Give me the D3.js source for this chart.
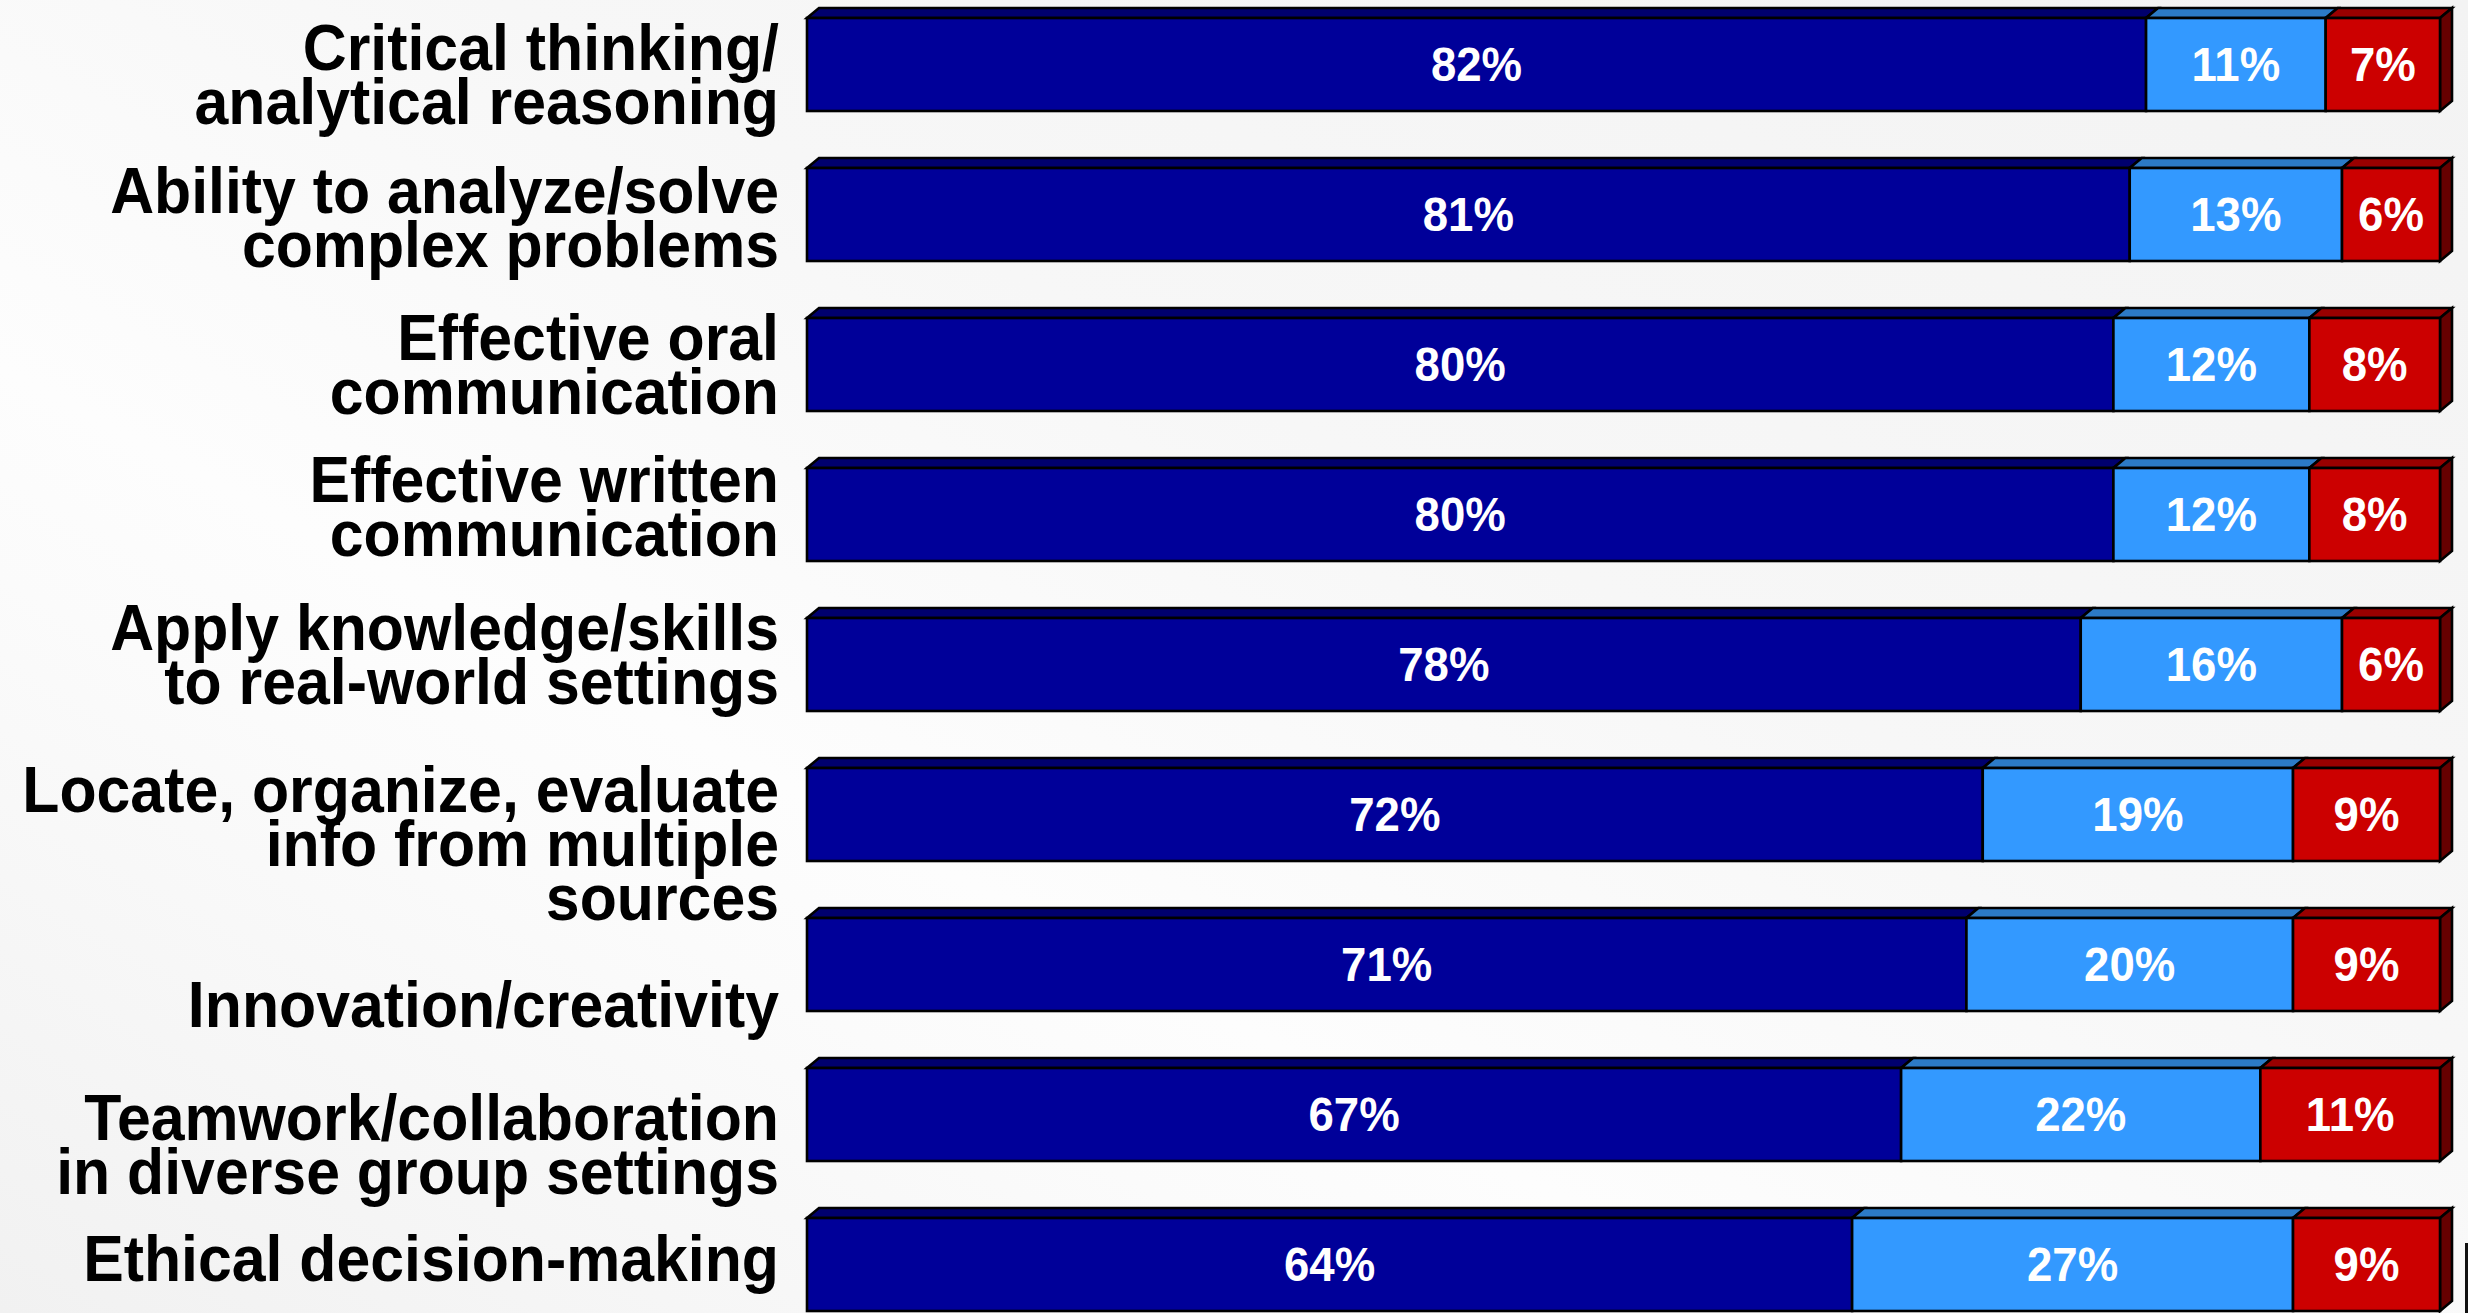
<!DOCTYPE html>
<html>
<head>
<meta charset="utf-8">
<script src="https://cdn.jsdelivr.net/npm/d3@7/dist/d3.min.js"></script>
<style>
  html, body { margin: 0; padding: 0; background: #f6f6f6; overflow: hidden; }
  svg { display: block; }
  text { font-family: "Liberation Sans", Arial, Helvetica, sans-serif; font-weight: bold; }
</style>
</head>
<body>
<svg id="chart" width="2468" height="1313"></svg>
<script>
// Outcome areas, one row per bar (line breaks mark the wrapped label lines)
const categories = [
  "Critical thinking/\nanalytical reasoning",
  "Ability to analyze/solve\ncomplex problems",
  "Effective oral\ncommunication",
  "Effective written\ncommunication",
  "Apply knowledge/skills\nto real-world settings",
  "Locate, organize, evaluate\ninfo from multiple\nsources",
  "Innovation/creativity",
  "Teamwork/collaboration\nin diverse group settings",
  "Ethical decision-making"
];

// Share of respondents (%) in each of the three response groups
const highShare = [82, 81, 80, 80, 78, 72, 71, 67, 64];
const midShare  = [11, 13, 12, 12, 16, 19, 20, 22, 27];
const lowShare  = [ 7,  6,  8,  8,  6,  9,  9, 11,  9];

const seriesKeys = ["high", "mid", "low"];

// ---- layout ----
const W = 2468, H = 1313;
const plotLeft = 807, plotRight = 2440;
const depthX = 12, depthY = 10;           // extrusion of the 3-D bars
const labelRight = 779;                   // right edge of the category labels
const labelSize = 64, labelLine = 54, labelSqueeze = 0.95;
const valueSize = 48;
// vertical nudge of each category label relative to its bar centre
const labelNudge = [10, 3, 0, -8, -10, 29, 40, 30, -6];

const faceColor = { high: "#000099", mid: "#3399ff", low: "#cc0000" };
const topColor  = { high: "#00006e", mid: "#2c7ac6", low: "#990000" };
const sideColor = { high: "#000055", mid: "#1f5a94", low: "#660000" };

const rows = categories.map((c, i) => ({
  category: c, high: highShare[i], mid: midShare[i], low: lowShare[i]
}));

const svg = d3.select("#chart");

// soft diagonal sheen on the background
const defs = svg.append("defs");
const bg = defs.append("linearGradient").attr("id", "bg")
  .attr("x1", "0").attr("y1", "1").attr("x2", "1").attr("y2", "0");
[[0, "#f1f1f1"], [0.28, "#fbfbfb"], [0.36, "#fdfdfd"], [0.6, "#f7f7f7"], [1, "#f3f3f3"]]
  .forEach(([o, c]) => bg.append("stop").attr("offset", o).attr("stop-color", c));
svg.append("rect").attr("width", W).attr("height", H).attr("fill", "url(#bg)");

const x = d3.scaleLinear().domain([0, 100]).range([plotLeft, plotRight]);
const y = d3.scaleBand().domain(categories).range([18, 1311])
  .paddingInner(0.38).paddingOuter(0);
const bh = y.bandwidth();

const stacked = d3.stack().keys(seriesKeys)(rows);
// flatten to one record per segment
const segments = [];
stacked.forEach((layer, li) => {
  layer.forEach((d, ri) => {
    segments.push({
      key: layer.key, last: li === stacked.length - 1,
      cat: rows[ri].category, v0: d[0], v1: d[1], value: d.data[layer.key]
    });
  });
});

const bars = svg.append("g").attr("stroke", "#000").attr("stroke-width", 2.6)
  .attr("stroke-linejoin", "miter");

// top faces
bars.selectAll("path.top").data(segments).join("path").attr("class", "top")
  .attr("fill", d => topColor[d.key])
  .attr("d", d => {
    const x0 = x(d.v0), x1 = x(d.v1), yt = y(d.cat);
    return `M${x0},${yt}L${x0 + depthX},${yt - depthY}L${x1 + depthX},${yt - depthY}L${x1},${yt}Z`;
  });

// right-hand side faces (only visible on the end segment)
bars.selectAll("path.side").data(segments.filter(d => d.last)).join("path").attr("class", "side")
  .attr("fill", d => sideColor[d.key])
  .attr("d", d => {
    const x1 = x(d.v1), yt = y(d.cat);
    return `M${x1},${yt}L${x1 + depthX},${yt - depthY}L${x1 + depthX},${yt + bh - depthY}L${x1},${yt + bh}Z`;
  });

// front faces
bars.selectAll("rect.front").data(segments).join("rect").attr("class", "front")
  .attr("x", d => x(d.v0)).attr("y", d => y(d.cat))
  .attr("width", d => x(d.v1) - x(d.v0)).attr("height", bh)
  .attr("fill", d => faceColor[d.key]);

// value labels
svg.append("g").selectAll("text").data(segments).join("text")
  .attr("transform", d => {
    const cx = (x(d.v0) + x(d.v1)) / 2;
    const cy = y(d.cat) + bh / 2 + valueSize * 0.716 / 2 - 1;
    return `translate(${cx},${cy}) scale(${labelSqueeze},1)`;
  })
  .attr("text-anchor", "middle").attr("fill", "#fff")
  .attr("font-size", valueSize)
  .text(d => d.value + "%");

// category labels
const cap = labelSize * 0.716;
const lab = svg.append("g").selectAll("g").data(categories).join("g")
  .attr("transform", (c, i) => {
    const lines = c.split("\n").length;
    const centre = y(c) + bh / 2 + labelNudge[i];
    const firstBase = centre - ((lines - 1) * labelLine + cap) / 2 + cap;
    return `translate(${labelRight},${firstBase}) scale(${labelSqueeze},1)`;
  });
lab.selectAll("text").data(c => c.split("\n")).join("text")
  .attr("y", (t, k) => k * labelLine)
  .attr("text-anchor", "end").attr("fill", "#000")
  .attr("font-size", labelSize)
  .text(t => t);

// edge of the frame at the lower right
svg.append("line").attr("x1", 2466.5).attr("x2", 2466.5).attr("y1", 1243).attr("y2", H)
  .attr("stroke", "#111").attr("stroke-width", 3);
</script>
</body>
</html>
